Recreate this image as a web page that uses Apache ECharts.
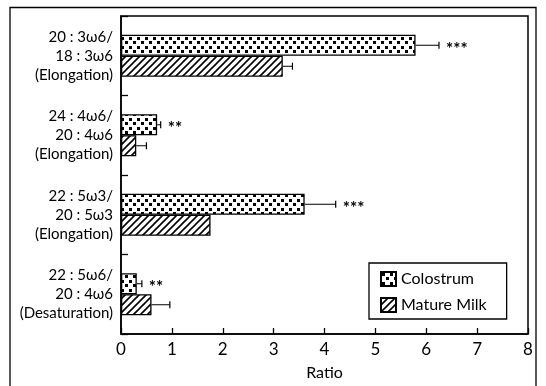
<!DOCTYPE html>
<html>
<head>
<meta charset="utf-8">
<script src="https://cdn.jsdelivr.net/npm/echarts@6/dist/echarts.min.js"></script>
<style>html,body{margin:0;padding:0;background:#fff}#c{width:546px;height:386px}</style>
</head>
<body>
<div id="c"></div>
<script>
// ---- data ----
var categories = [
  ['20 : 3\u03c96/', '18 : 3\u03c96', '(Elongation)'],
  ['24 : 4\u03c96/', '20 : 4\u03c96', '(Elongation)'],
  ['22 : 5\u03c93/', '20 : 5\u03c93', '(Elongation)'],
  ['22 : 5\u03c96/', '20 : 4\u03c96', '(Desaturation)']
];
var seriesNames = ['Colostrum', 'Mature Milk'];
var colostrum = [5.79, 0.71, 3.61, 0.31];
var colostrumSD = [0.46, 0.07, 0.61, 0.10];
var matureMilk = [3.18, 0.30, 1.76, 0.60];
var matureMilkSD = [0.19, 0.20, 0, 0.36];
var significance = ['***', '**', '***', '**'];
var xTicks = [0, 1, 2, 3, 4, 5, 6, 7, 8];

// ---- patterns ----
function dotPattern() {
  var c = document.createElement('canvas');
  c.width = 8; c.height = 9;
  var g = c.getContext('2d');
  g.fillStyle = '#fff'; g.fillRect(0, 0, 8, 9);
  g.fillStyle = '#000';
  g.fillRect(1, 1, 3, 3);
  g.fillRect(5, 5, 3, 3);
  return c;
}
function hatchPattern() {
  var s = 7;
  var c = document.createElement('canvas');
  c.width = s; c.height = s;
  var g = c.getContext('2d');
  g.fillStyle = '#fff'; g.fillRect(0, 0, s, s);
  g.strokeStyle = '#000'; g.lineWidth = 1.6;
  g.beginPath();
  g.moveTo(-1, s + 1); g.lineTo(s + 1, -1);
  g.moveTo(-1, 1); g.lineTo(1, -1);
  g.moveTo(s - 1, s + 1); g.lineTo(s + 1, s - 1);
  g.stroke();
  return c;
}
var FONT = 'Lato';
var BAR_W = 21;

var chart = echarts.init(document.getElementById('c'), null, {renderer: 'canvas'});

var catLabels = categories.map(function (l) { return l.join('\n'); });

function errSeries(vals, sds, offset, stars) {
  return {
    type: 'custom',
    z: 5,
    silent: true,
    data: vals.map(function (v, i) { return [v, i, sds[i]]; }),
    renderItem: function (params, api) {
      var v = api.value(0), i = api.value(1), sd = api.value(2);
      var p0 = api.coord([v, i]);
      var p1 = api.coord([v + sd, i]);
      var y = p0[1] + offset;
      var children = [];
      if (sd > 0) {
        children.push({type: 'line', shape: {x1: p0[0], y1: y, x2: p1[0], y2: y}, style: {stroke: '#000', lineWidth: 1}});
        children.push({type: 'line', shape: {x1: p1[0], y1: y - 3.5, x2: p1[0], y2: y + 3.5}, style: {stroke: '#000', lineWidth: 1.2}});
      }
      if (stars) {
        children.push({type: 'text', style: {text: stars[i], x: p1[0] + 7, y: y + 4, fill: '#000', font: 'bold 17px ' + FONT, textVerticalAlign: 'middle'}});
      }
      return {type: 'group', children: children};
    }
  };
}

chart.setOption({
  animation: false,
  backgroundColor: '#fff',
  textStyle: {fontFamily: FONT, color: '#000'},
  grid: {left: 121, top: 16, right: 18, bottom: 48, show: true, borderColor: '#000', borderWidth: 1.5, containLabel: false},
  xAxis: {
    type: 'value', min: 0, max: 8, interval: 1,
    name: 'Ratio', nameLocation: 'middle', nameGap: 31,
    nameTextStyle: {fontSize: 16, color: '#000', fontFamily: FONT},
    axisLine: {show: true, lineStyle: {color: '#000', width: 1.5}},
    axisTick: {show: true, inside: true, length: 6, lineStyle: {color: '#000', width: 1.3}},
    axisLabel: {fontSize: 17, color: '#000', margin: 7, fontFamily: FONT,
      formatter: function (v) { return xTicks.indexOf(v) >= 0 ? String(v) : ''; }},
    splitLine: {show: false}
  },
  yAxis: {
    type: 'category', data: catLabels, inverse: true,
    axisLine: {show: true, lineStyle: {color: '#000', width: 1.5}},
    axisTick: {show: true, inside: true, length: 7, lineStyle: {color: '#000', width: 1.3}},
    axisLabel: {fontSize: 15, lineHeight: 19, color: '#000', align: 'right', margin: 8, fontFamily: FONT},
    splitLine: {show: false}
  },
  legend: {
    data: seriesNames,
    orient: 'vertical',
    left: 369, top: 263,
    width: 145,
    backgroundColor: '#fff',
    borderColor: '#000', borderWidth: 1.3, borderRadius: 0,
    padding: [8, 20, 6, 11],
    itemWidth: 15, itemHeight: 14, itemGap: 10,
    icon: 'rect',
    textStyle: {fontSize: 16, color: '#000', fontFamily: FONT},
    selectedMode: false
  },
  series: [
    {
      name: seriesNames[0], type: 'bar', data: colostrum,
      barWidth: BAR_W, barGap: '0%',
      itemStyle: {color: {image: dotPattern(), repeat: 'repeat'}, borderColor: '#000', borderWidth: 1.3}
    },
    {
      name: seriesNames[1], type: 'bar', data: matureMilk,
      barWidth: BAR_W, barGap: '0%',
      itemStyle: {color: {image: hatchPattern(), repeat: 'repeat'}, borderColor: '#000', borderWidth: 1.3}
    },
    errSeries(colostrum, colostrumSD, -BAR_W / 2, significance),
    errSeries(matureMilk, matureMilkSD, BAR_W / 2, null)
  ],
  graphic: [
    {type: 'polyline', silent: true, shape: {points: [[10, 400], [10, 7.5], [536, 7.5], [536, 400]]}, style: {stroke: '#000', lineWidth: 1.3, fill: null}}
  ]
});
</script>
</body>
</html>
